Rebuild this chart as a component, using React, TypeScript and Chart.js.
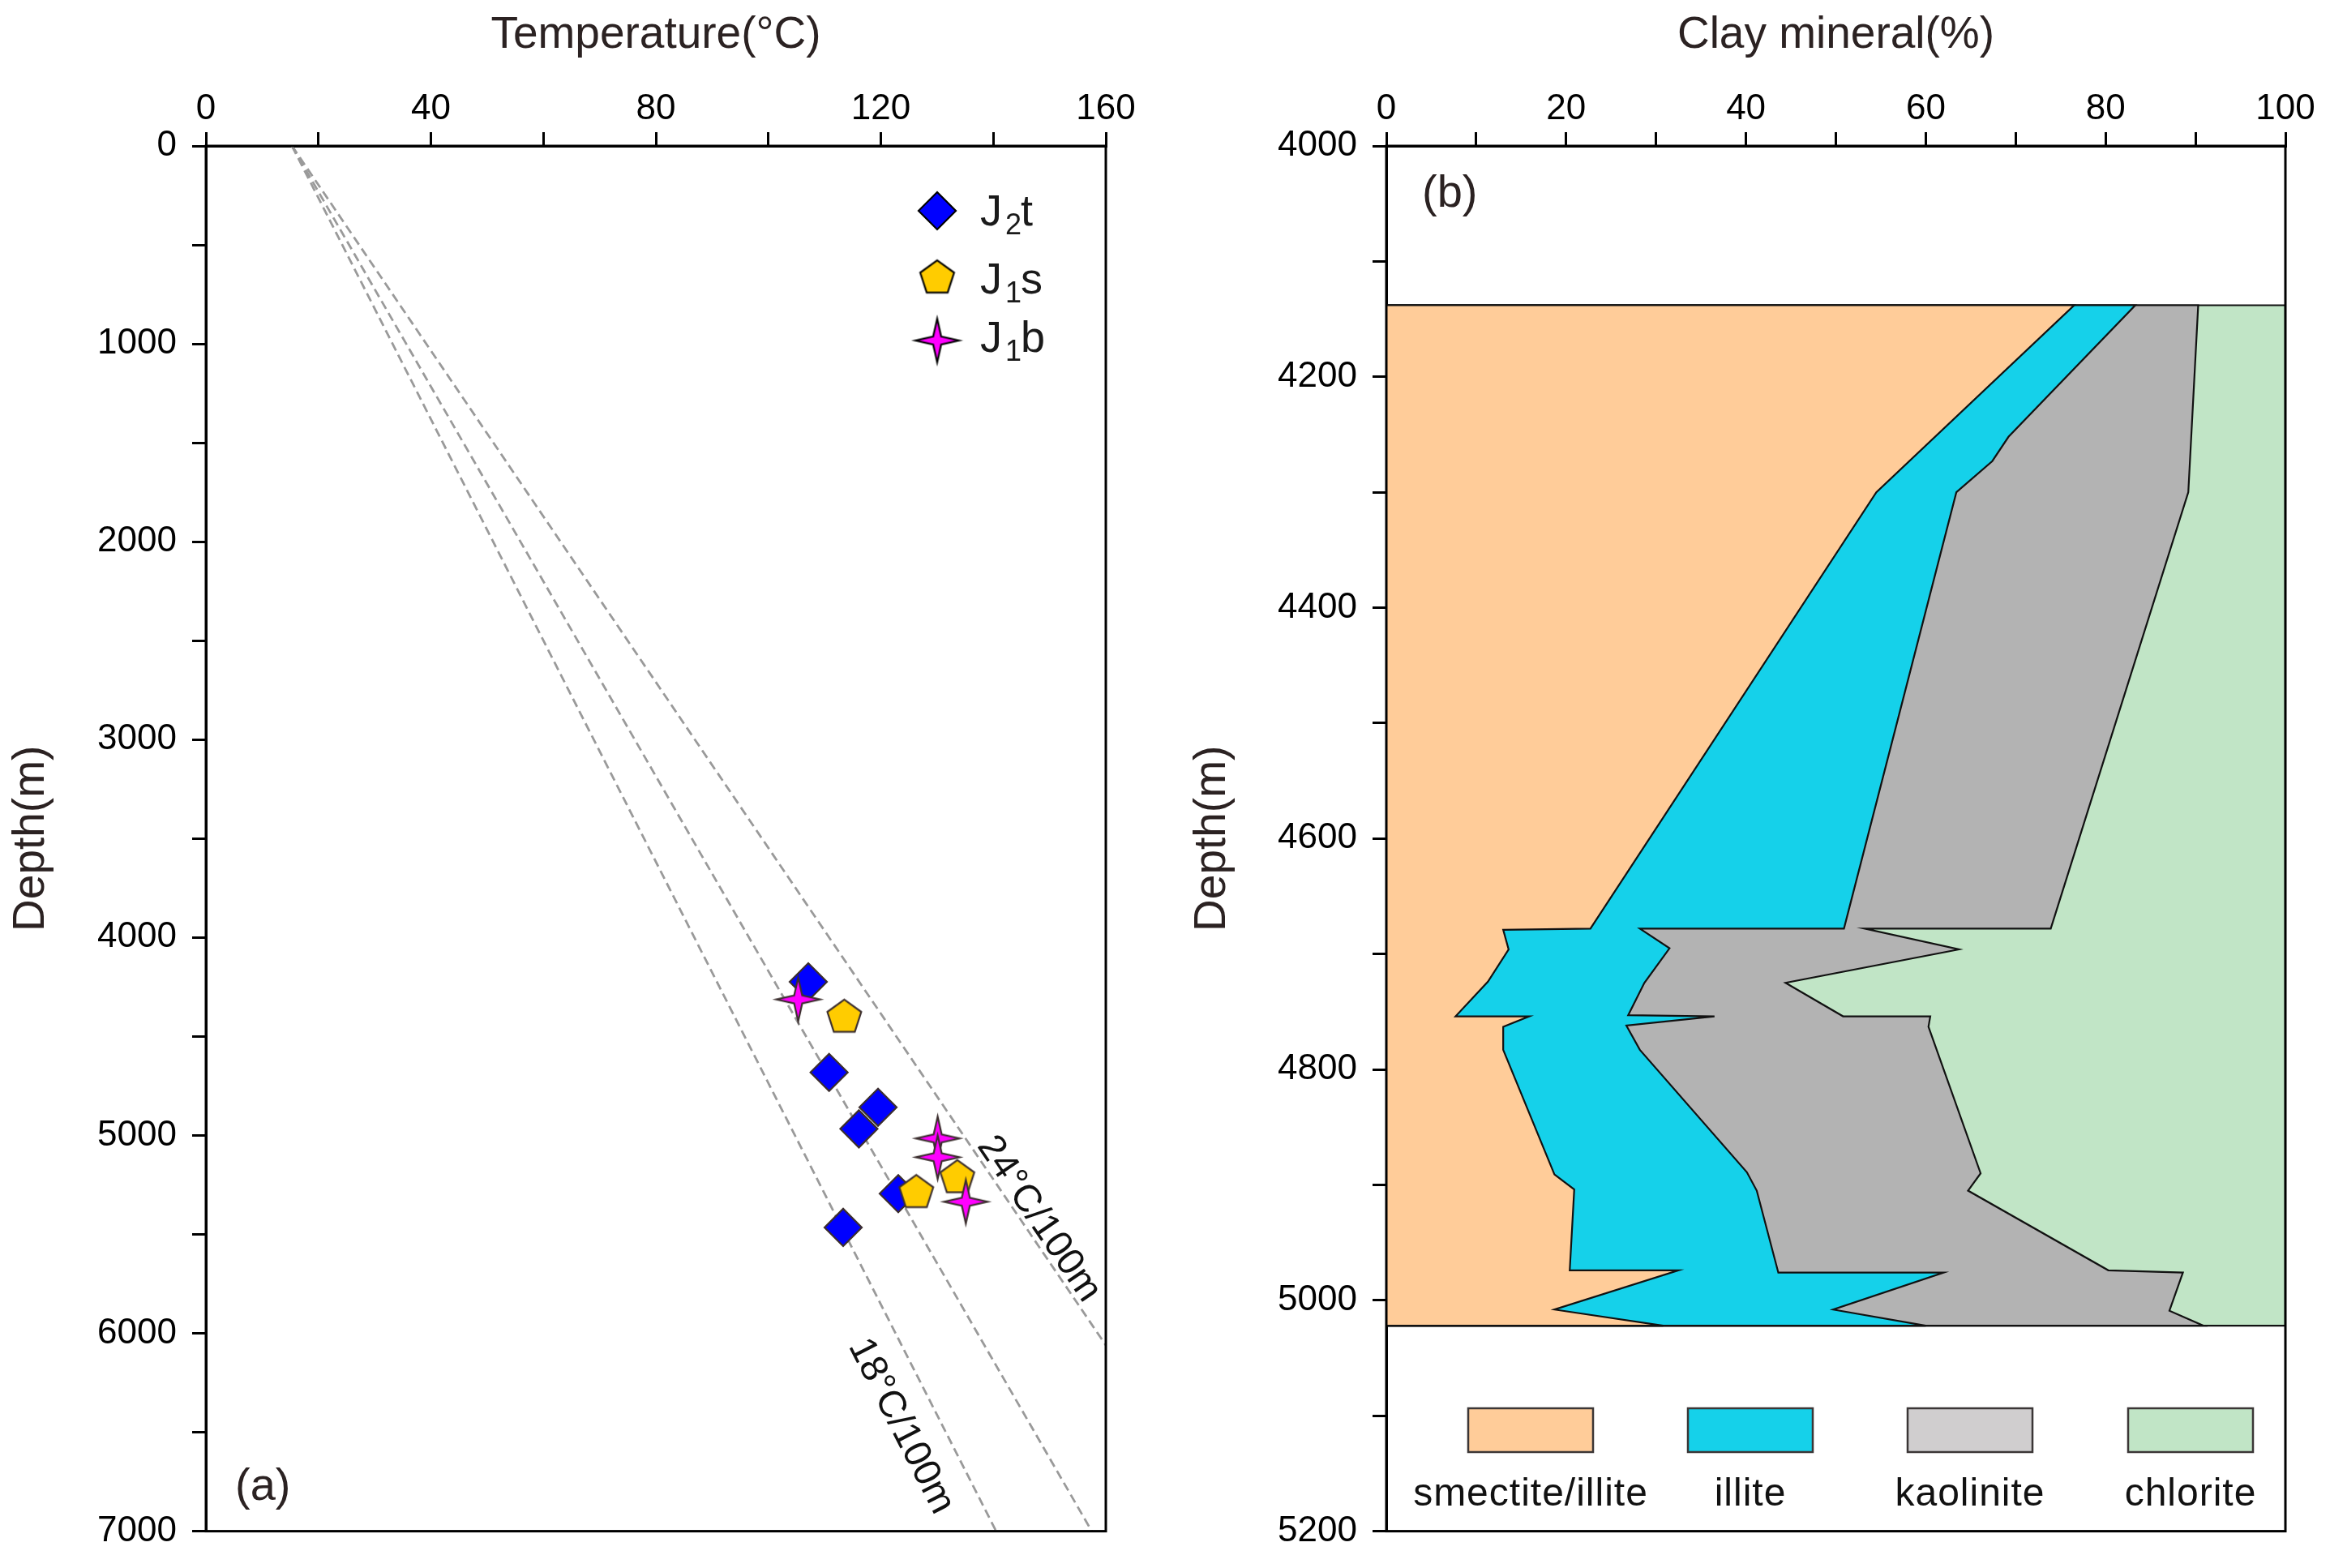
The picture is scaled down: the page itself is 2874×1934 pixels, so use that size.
import React, { useEffect, useRef } from 'react';
import { Chart, registerables } from 'chart.js';

Chart.register(...registerables);

const FONT = '"Liberation Sans", Arial, Helvetica, sans-serif';
const TEXT_DARK = '#2b2222';

// ---------- Panel (a): temperature vs depth ----------
const tempTickLabels = [0, 40, 80, 120, 160];
const depthTickLabelsA = [0, 1000, 2000, 3000, 4000, 5000, 6000, 7000];

const j2tTemp = [107.1, 110.8, 119.5, 116.1, 123.1, 113.3];
const j2tDepth = [4224, 4682, 4858, 4967, 5294, 5465];
const j1sTemp = [113.5, 133.6, 126.3];
const j1sDepth = [4395, 5206, 5281];
const j1bTemp = [105.3, 130.1, 130.1, 135.1];
const j1bDepth = [4313, 5015, 5110, 5335];

// geothermal gradient reference lines (start point shared, end points)
const gradStartTemp = 15.3;
const gradStartDepth = 0;
const gradEndTemp = [140.5, 157.5, 160];
const gradEndDepth = [7000, 7000, 6060];
const gradLabels = ['18°C/100m', '', '24°C/100m'];

const legendLabelsA = [
  ['J', '2', 't'],
  ['J', '1', 's'],
  ['J', '1', 'b'],
];

// ---------- Panel (b): clay minerals vs depth ----------
const pctTickLabels = [0, 20, 40, 60, 80, 100];
const depthTickLabelsB = [4000, 4200, 4400, 4600, 4800, 5000, 5200];

const clayNames = ['smectite/illite', 'illite', 'kaolinite', 'chlorite'];
const clayFill = ['#FFCC99', '#15D1EA', '#B3B3B3', '#C1E5C6'];
const clayLegendFill = ['#FFCC99', '#15D1EA', '#D0CECF', '#C1E5C6'];

const topDepth = 4138;
const bottomDepth = 5022;

// cumulative boundary: right edge of smectite/illite
const siPct = [76.5, 54.5, 22.7, 13.0, 13.6, 11.3, 7.7, 15.9, 13.0, 13.0, 18.7, 20.9, 20.4, 32.5, 18.7, 30.8];
const siDepth = [4138, 4300, 4678, 4679, 4696, 4724, 4754, 4754, 4763, 4783, 4891, 4904, 4974, 4974, 5008, 5022];

// cumulative boundary: right edge of illite
const illPct = [83.3, 69.2, 67.4, 63.4, 50.9, 28.2, 31.5, 28.7, 26.9, 36.5, 26.7, 28.2, 40.1, 41.2, 43.6, 62.0, 49.7, 60.0];
const illDepth = [4138, 4252, 4273, 4300, 4678, 4678, 4695, 4725, 4753, 4754, 4762, 4783, 4889, 4905, 4976, 4976, 5008, 5022];

// cumulative boundary: right edge of kaolinite
const kaoPct = [90.3, 89.2, 73.9, 53.2, 63.7, 44.4, 50.8, 60.5, 60.3, 66.1, 64.7, 80.3, 88.6, 87.1, 90.9];
const kaoDepth = [4138, 4300, 4678, 4678, 4696, 4725, 4754, 4754, 4763, 4890, 4905, 4974, 4976, 5009, 5022];

// ---------- helpers ----------
function makePentagon(R: number, fill: string, stroke: string, lw: number) {
  const size = Math.ceil(2 * R + lw * 2 + 4);
  const c = document.createElement('canvas');
  c.width = size;
  c.height = size;
  const g = c.getContext('2d')!;
  const cx = size / 2;
  const cy = size / 2 + R * 0.095;
  g.beginPath();
  for (let k = 0; k < 5; k++) {
    const a = -Math.PI / 2 + (k * 2 * Math.PI) / 5;
    const px = cx + R * Math.cos(a);
    const py = cy + R * Math.sin(a);
    if (k === 0) g.moveTo(px, py);
    else g.lineTo(px, py);
  }
  g.closePath();
  g.fillStyle = fill;
  g.fill();
  g.lineWidth = lw;
  g.strokeStyle = stroke;
  g.lineJoin = 'miter';
  g.stroke();
  return c;
}

function makeStar(Ro: number, Ri: number, fill: string, stroke: string, lw: number) {
  const size = Math.ceil(2 * Ro + lw * 2 + 6);
  const c = document.createElement('canvas');
  c.width = size;
  c.height = size;
  const g = c.getContext('2d')!;
  const cx = size / 2;
  const cy = size / 2;
  g.beginPath();
  for (let k = 0; k < 8; k++) {
    const a = -Math.PI / 2 + (k * Math.PI) / 4;
    const r = k % 2 === 0 ? Ro : Ri;
    const px = cx + r * Math.cos(a);
    const py = cy + r * Math.sin(a);
    if (k === 0) g.moveTo(px, py);
    else g.lineTo(px, py);
  }
  g.closePath();
  g.fillStyle = fill;
  g.fill();
  g.lineWidth = lw;
  g.strokeStyle = stroke;
  g.lineJoin = 'miter';
  g.miterLimit = 10;
  g.stroke();
  return c;
}

function drawDiamond(ctx: CanvasRenderingContext2D, x: number, y: number, r: number, fill: string, stroke: string, lw: number) {
  ctx.beginPath();
  ctx.moveTo(x, y - r);
  ctx.lineTo(x + r, y);
  ctx.lineTo(x, y + r);
  ctx.lineTo(x - r, y);
  ctx.closePath();
  ctx.fillStyle = fill;
  ctx.fill();
  ctx.lineWidth = lw;
  ctx.strokeStyle = stroke;
  ctx.stroke();
}

function axisCommon(extra: any) {
  return {
    type: 'linear',
    grid: { drawOnChartArea: false, drawTicks: true, tickLength: 17, color: '#000', lineWidth: 3 },
    border: { display: true, color: '#000', width: 3 },
    ...extra,
  };
}

const framePlugin = {
  id: 'frame',
  afterDraw(chart: any) {
    const { ctx, chartArea } = chart;
    ctx.save();
    ctx.strokeStyle = '#000';
    ctx.lineWidth = 3;
    ctx.strokeRect(chartArea.left, chartArea.top, chartArea.right - chartArea.left, chartArea.bottom - chartArea.top);
    ctx.restore();
  },
};

export default function App() {
  const refA = useRef<HTMLCanvasElement>(null);
  const refB = useRef<HTMLCanvasElement>(null);

  useEffect(() => {
    document.body.style.margin = '0';
    const markerStroke = '#3b2e2e';
    const pent = makePentagon(22, '#FFCC00', markerStroke, 2.2);
    const star = makeStar(27, 7, '#FF00FF', markerStroke, 2.2);
    const pentLeg = makePentagon(22, '#FFCC00', '#000', 2.2);
    const starLeg = makeStar(27, 7, '#FF00FF', '#000', 2.2);

    const panelAPlugin = {
      id: 'panelA',
      afterDatasetsDraw(chart: any) {
        const { ctx, scales } = chart;
        const x = scales.x;
        const y = scales.y;
        ctx.save();
        // gradient labels
        const labelPlace = [
          { f: 0.912, off: -46 },
          null,
          { f: 0.902, off: 19 },
        ];
        gradLabels.forEach((txt, i) => {
          const pl = labelPlace[i];
          if (!txt || !pl) return;
          const x0 = x.getPixelForValue(gradStartTemp);
          const y0 = y.getPixelForValue(gradStartDepth);
          const x1 = x.getPixelForValue(gradEndTemp[i]);
          const y1 = y.getPixelForValue(gradEndDepth[i]);
          const ang = Math.atan2(y1 - y0, x1 - x0);
          const px = x0 + (x1 - x0) * pl.f + Math.sin(ang) * pl.off;
          const py = y0 + (y1 - y0) * pl.f - Math.cos(ang) * pl.off;
          ctx.save();
          ctx.translate(px, py);
          ctx.rotate(ang);
          ctx.font = `47px ${FONT}`;
          ctx.fillStyle = '#111';
          ctx.textAlign = 'center';
          ctx.textBaseline = 'middle';
          ctx.fillText(txt, 0, 0);
          ctx.restore();
        });

        // legend
        const mx = 1156;
        const rowsMarkerY = [260, 341, 420];
        const rowsBase = [278, 362, 434];
        drawDiamond(ctx, mx, rowsMarkerY[0], 23, '#0000FF', '#000', 2.2);
        ctx.drawImage(pentLeg, mx - pentLeg.width / 2, rowsMarkerY[1] - pentLeg.height / 2);
        ctx.drawImage(starLeg, mx - starLeg.width / 2, rowsMarkerY[2] - starLeg.height / 2);
        legendLabelsA.forEach((parts, i) => {
          let tx = 1209;
          const b = rowsBase[i];
          ctx.fillStyle = '#1a1a1a';
          ctx.textAlign = 'left';
          ctx.textBaseline = 'alphabetic';
          ctx.font = `54px ${FONT}`;
          ctx.fillText(parts[0], tx, b);
          tx += ctx.measureText(parts[0]).width + 4;
          ctx.font = `36px ${FONT}`;
          ctx.fillText(parts[1], tx, b + 11);
          tx += ctx.measureText(parts[1]).width - 1;
          ctx.font = `54px ${FONT}`;
          ctx.fillText(parts[2], tx, b);
        });

        // panel label
        ctx.font = `56px ${FONT}`;
        ctx.fillStyle = TEXT_DARK;
        ctx.textAlign = 'left';
        ctx.textBaseline = 'alphabetic';
        ctx.fillText('(a)', 290, 1850);
        ctx.restore();
      },
    };

    const OFFSET_B = 1437;
    const panelBPlugin = {
      id: 'panelB',
      afterDatasetsDraw(chart: any) {
        const { ctx } = chart;
        ctx.save();
        const centers = [1888, 2159, 2430, 2702];
        const bw = 154;
        const bh = 54;
        const by = 1737;
        clayNames.forEach((name, i) => {
          const cx = centers[i] - OFFSET_B;
          ctx.fillStyle = clayLegendFill[i];
          ctx.fillRect(cx - bw / 2, by, bw, bh);
          ctx.lineWidth = 2.5;
          ctx.strokeStyle = '#3b3636';
          ctx.strokeRect(cx - bw / 2, by, bw, bh);
          ctx.font = `48px ${FONT}`;
          ctx.fillStyle = '#111';
          ctx.textAlign = 'center';
          ctx.textBaseline = 'alphabetic';
          (ctx as any).letterSpacing = '1px';
          ctx.fillText(name, cx, 1857);
          (ctx as any).letterSpacing = '0px';
        });
        ctx.font = `56px ${FONT}`;
        ctx.fillStyle = TEXT_DARK;
        ctx.textAlign = 'left';
        ctx.fillText('(b)', 1754 - OFFSET_B, 255);
        ctx.restore();
      },
    };

    const pts = (xs: number[], ys: number[]) => xs.map((v, i) => ({ x: v, y: ys[i] }));

    const chartA = new Chart(refA.current!, {
      type: 'scatter',
      data: {
        datasets: [
          {
            label: 'J1b',
            data: pts(j1bTemp, j1bDepth),
            pointStyle: star as any,
            pointRadius: 27,
            backgroundColor: '#FF00FF',
            borderColor: markerStroke,
          },
          {
            label: 'J1s',
            data: pts(j1sTemp, j1sDepth),
            pointStyle: pent as any,
            pointRadius: 22,
            backgroundColor: '#FFCC00',
            borderColor: markerStroke,
          },
          {
            label: 'J2t',
            data: pts(j2tTemp, j2tDepth),
            pointStyle: 'rectRot',
            pointRadius: 23,
            backgroundColor: '#0000FF',
            borderColor: markerStroke,
            borderWidth: 2.2,
          },
          ...gradEndTemp.map((t, i) => ({
            label: gradLabels[i] || 'gradient',
            data: [
              { x: gradStartTemp, y: gradStartDepth },
              { x: t, y: gradEndDepth[i] },
            ],
            showLine: true,
            pointRadius: 0,
            borderColor: '#9a9a9a',
            backgroundColor: '#9a9a9a',
            borderWidth: 2.8,
            borderDash: [11, 6],
          })),
        ] as any,
      },
      options: {
        responsive: false,
        animation: false,
        devicePixelRatio: 1,
        layout: { padding: { left: 0, top: 0, right: 73, bottom: 43 } },
        plugins: { legend: { display: false }, tooltip: { enabled: false } },
        scales: {
          x: axisCommon({
            position: 'top',
            min: 0,
            max: 160,
            ticks: {
              stepSize: 20,
              autoSkip: false,
              maxRotation: 0,
              padding: 2,
              color: '#000',
              font: { size: 44, family: FONT },
              callback: (v: any) => (tempTickLabels.includes(Number(v)) ? String(v) : ''),
            },
            title: {
              display: true,
              text: 'Temperature(°C)',
              color: TEXT_DARK,
              font: { size: 55, family: FONT },
              padding: { top: 11, bottom: 0 },
            },
            afterFit: (s: any) => {
              s.height = 180;
            },
          }),
          y: axisCommon({
            position: 'left',
            reverse: true,
            min: 0,
            max: 7000,
            ticks: {
              stepSize: 500,
              autoSkip: false,
              padding: 19,
              color: '#000',
              font: { size: 44, family: FONT },
              callback: (v: any) => (depthTickLabelsA.includes(Number(v)) ? String(v) : ''),
            },
            title: {
              display: true,
              text: 'Depth(m)',
              color: TEXT_DARK,
              font: { size: 55, family: FONT },
              padding: { top: 6, bottom: 0 },
            },
            afterFit: (s: any) => {
              s.width = 254;
            },
          }),
        } as any,
      },
      plugins: [panelAPlugin, framePlugin],
    });

    const boundaries = [pts(siPct, siDepth), pts(illPct, illDepth), pts(kaoPct, kaoDepth)];
    const polys = boundaries.map((b) => [{ x: 0, y: topDepth }, ...b, { x: 0, y: bottomDepth }]);
    polys.push([
      { x: 0, y: topDepth },
      { x: 100, y: topDepth },
      { x: 100, y: bottomDepth },
      { x: 0, y: bottomDepth },
    ]);

    const chartB = new Chart(refB.current!, {
      type: 'line',
      data: {
        datasets: polys.map((p, i) => ({
          label: clayNames[i],
          data: p,
          indexAxis: 'y',
          fill: 'shape',
          backgroundColor: clayFill[i],
          borderColor: '#111',
          borderWidth: 2.2,
          pointRadius: 0,
          tension: 0,
        })) as any,
      },
      options: {
        indexAxis: 'y',
        responsive: false,
        animation: false,
        devicePixelRatio: 1,
        layout: { padding: { left: 0, top: 0, right: 55, bottom: 43 } },
        plugins: { legend: { display: false }, tooltip: { enabled: false } },
        scales: {
          x: axisCommon({
            position: 'top',
            min: 0,
            max: 100,
            ticks: {
              stepSize: 10,
              autoSkip: false,
              maxRotation: 0,
              padding: 2,
              color: '#000',
              font: { size: 44, family: FONT },
              callback: (v: any) => (pctTickLabels.includes(Number(v)) ? String(v) : ''),
            },
            title: {
              display: true,
              text: 'Clay mineral(%)',
              color: TEXT_DARK,
              font: { size: 55, family: FONT },
              padding: { top: 11, bottom: 0 },
            },
            afterFit: (s: any) => {
              s.height = 180;
            },
          }),
          y: axisCommon({
            position: 'left',
            reverse: true,
            min: 4000,
            max: 5200,
            ticks: {
              stepSize: 100,
              autoSkip: false,
              padding: 19,
              color: '#000',
              font: { size: 44, family: FONT },
              callback: (v: any) => (depthTickLabelsB.includes(Number(v)) ? String(v) : ''),
            },
            title: {
              display: true,
              text: 'Depth(m)',
              color: TEXT_DARK,
              font: { size: 55, family: FONT },
              padding: { top: 26, bottom: 0 },
            },
            afterFit: (s: any) => {
              s.width = 273;
            },
          }),
        } as any,
      },
      plugins: [panelBPlugin, framePlugin],
    });

    return () => {
      chartA.destroy();
      chartB.destroy();
    };
  }, []);

  return (
    <div style={{ position: 'relative', width: 2874, height: 1934, background: '#fff' }}>
      <canvas
        ref={refA}
        width={1437}
        height={1934}
        style={{ position: 'absolute', left: 0, top: 0, width: 1437, height: 1934 }}
      />
      <canvas
        ref={refB}
        width={1437}
        height={1934}
        style={{ position: 'absolute', left: 1437, top: 0, width: 1437, height: 1934 }}
      />
    </div>
  );
}
